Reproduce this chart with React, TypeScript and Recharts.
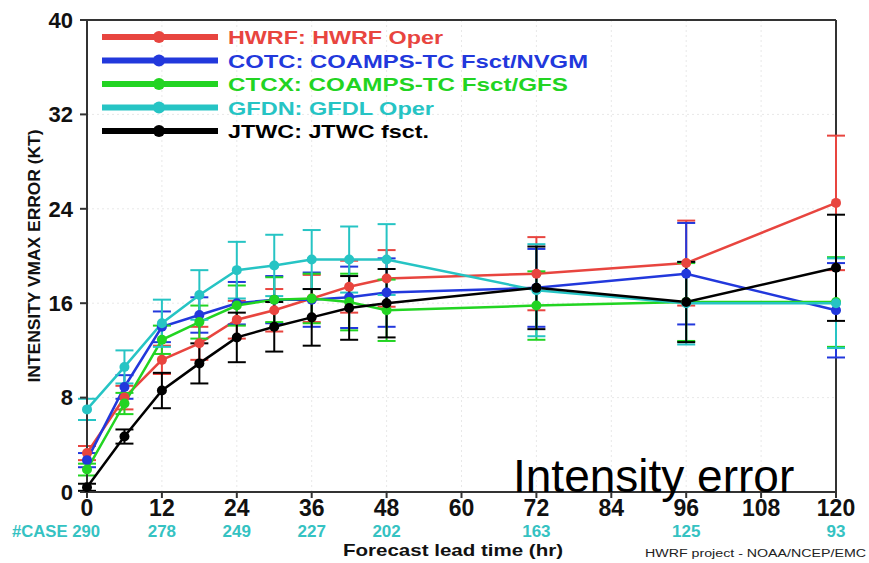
import React from "react";
import {
  LineChart,
  Line,
  XAxis,
  YAxis,
  CartesianGrid,
  ErrorBar,
  Legend,
  ReferenceLine,
} from "recharts";

// forecast lead times (hr)
const hours = [0, 6, 12, 18, 24, 30, 36, 42, 48, 72, 96, 120];

const hwrf = [3.3, 8.0, 11.2, 12.6, 14.6, 15.4, 16.4, 17.4, 18.1, 18.5, 19.4, 24.5];
const hwrfErr = [0.6, 1.0, 1.2, 1.4, 1.6, 1.8, 2.0, 2.2, 2.4, 3.1, 3.6, 5.7];

const cotc = [2.7, 8.9, 14.0, 15.0, 16.0, 16.3, 16.3, 16.5, 16.9, 17.3, 18.5, 15.4];
const cotcErr = [0.6, 1.0, 1.3, 1.5, 1.8, 2.0, 2.3, 2.6, 2.9, 3.3, 4.3, 4.0];

const ctcx = [1.9, 7.5, 12.9, 14.4, 15.8, 16.3, 16.4, 16.1, 15.4, 15.8, 16.1, 16.1];
const ctcxErr = [0.5, 0.9, 1.2, 1.4, 1.7, 1.9, 2.1, 2.4, 2.6, 2.9, 3.3, 3.8];

const gfdn = [7.0, 10.6, 14.3, 16.7, 18.8, 19.2, 19.7, 19.7, 19.7, 17.1, 16.0, 16.0];
const gfdnErr = [0.9, 1.4, 2.0, 2.1, 2.4, 2.6, 2.5, 2.8, 3.0, 3.9, 3.5, 3.8];

const jtwc = [0.4, 4.7, 8.6, 10.9, 13.1, 14.0, 14.8, 15.6, 16.0, 17.3, 16.1, 19.0];
const jtwcErr = [0.3, 0.6, 1.5, 1.7, 2.1, 2.1, 2.4, 2.7, 2.9, 3.5, 3.4, 4.5];

// number of cases at each labelled lead time
const caseHours = [0, 12, 24, 36, 48, 72, 96, 120];
const caseCounts = [290, 278, 249, 227, 202, 163, 125, 93];

const xTicks = [0, 12, 24, 36, 48, 60, 72, 84, 96, 108, 120];
const yTicks = [0, 8, 16, 24, 32, 40];

const series = [
  { key: "hwrf", name: "HWRF: HWRF Oper", color: "#e8453f", values: hwrf, err: hwrfErr, textLen: 215 },
  { key: "cotc", name: "COTC: COAMPS-TC Fsct/NVGM", color: "#2238dc", values: cotc, err: cotcErr, textLen: 360 },
  { key: "ctcx", name: "CTCX: COAMPS-TC Fsct/GFS", color: "#22d422", values: ctcx, err: ctcxErr, textLen: 340 },
  { key: "gfdn", name: "GFDN: GFDL Oper", color: "#26c4c4", values: gfdn, err: gfdnErr, textLen: 206 },
  { key: "jtwc", name: "JTWC: JTWC fsct.", color: "#000000", values: jtwc, err: jtwcErr, textLen: 201 },
];

const data = hours.map((h, i) => {
  const row: Record<string, number> = { hour: h };
  series.forEach((s) => {
    row[s.key] = s.values[i];
    row[s.key + "Err"] = s.err[i];
  });
  return row;
});

const W = 869;
const H = 563;
const tickFont = "'Liberation Sans', Arial, sans-serif";
const gradsFont = "'Liberation Sans', Arial, sans-serif";
const caseColor = "#35c2c2";

function CaseTick(props: any) {
  const { x, y, payload } = props;
  const idx = caseHours.indexOf(payload.value);
  if (idx < 0) return null;
  const label = String(caseCounts[idx]);
  if (idx === 0) {
    return (
      <text
        x={x + 13}
        y={y}
        dy="0.71em"
        textAnchor="end"
        fill={caseColor}
        fontSize={17}
        fontWeight="bold"
        fontFamily={tickFont}
        textLength={88}
        lengthAdjust="spacingAndGlyphs"
      >
        #CASE {label}
      </text>
    );
  }
  return (
    <text x={x} y={y} dy="0.71em" textAnchor="middle" fill={caseColor} fontSize={17} fontWeight="bold" fontFamily={tickFont}>
      {label}
    </text>
  );
}

function LegendBox() {
  return (
    <svg width={W} height={H} style={{ position: "absolute", left: 0, top: 0 }}>
      {series.map((s, i) => {
        const cy = 37 + i * 23.5;
        return (
          <g key={s.key}>
            <line x1={102} x2={218} y1={cy} y2={cy} stroke={s.color} strokeWidth={6} />
            <circle cx={159} cy={cy} r={6} fill={s.color} />
            <text
              x={228}
              y={cy + 7}
              fill={s.color}
              fontSize={19}
              fontWeight="bold"
              fontFamily={gradsFont}
              textLength={s.textLen}
              lengthAdjust="spacingAndGlyphs"
            >
              {s.name}
            </text>
          </g>
        );
      })}
    </svg>
  );
}

export default function App() {
  return (
    <div style={{ position: "absolute", left: 0, top: 0, width: W, height: H, background: "#fff" }}>
      <LineChart
        width={W}
        height={H}
        data={data}
        margin={{ top: 20, right: 33, bottom: 21, left: 0 }}
      >
        <CartesianGrid stroke="#e8e8e8" strokeDasharray="2 3" />
        <XAxis
          dataKey="hour"
          type="number"
          domain={[0, 120]}
          ticks={xTicks}
          height={30}
          tickSize={6}
          tickMargin={2}
          stroke="#333"
          strokeWidth={2}
          tick={{ fill: "#111", fontSize: 23, fontWeight: "bold", fontFamily: tickFont }}
        />
        <XAxis
          xAxisId="cases"
          dataKey="hour"
          type="number"
          domain={[0, 120]}
          ticks={caseHours}
          height={20}
          axisLine={false}
          tickLine={false}
          tickSize={0}
          tickMargin={3}
          tick={<CaseTick />}
        />
        <YAxis
          type="number"
          domain={[0, 40]}
          ticks={yTicks}
          width={87}
          tickSize={7}
          tickMargin={7}
          stroke="#333"
          strokeWidth={2}
          tick={{ fill: "#111", fontSize: 22, fontWeight: "bold", fontFamily: tickFont }}
        />
        <ReferenceLine y={40} stroke="#333" strokeWidth={2} />
        <ReferenceLine x={120} stroke="#333" strokeWidth={2} />
        <Legend
          layout="vertical"
          align="center"
          verticalAlign="middle"
          wrapperStyle={{ left: 0, top: 0, width: W, height: H, pointerEvents: "none" }}
          content={() => <LegendBox />}
        />
        {series.map((s) => (
          <Line
            key={s.key}
            dataKey={s.key}
            name={s.name}
            stroke={s.color}
            strokeWidth={2.5}
            dot={{ r: 5, fill: s.color, stroke: "none" }}
            isAnimationActive={false}
          >
            <ErrorBar dataKey={s.key + "Err"} direction="y" width={9} stroke={s.color} strokeWidth={2} />
          </Line>
        ))}
      </LineChart>
      <svg width={W} height={H} style={{ position: "absolute", left: 0, top: 0, pointerEvents: "none" }}>
        <text
          transform="translate(40,256) rotate(-90)"
          textAnchor="middle"
          fontSize={16}
          fontWeight="bold"
          fontFamily={tickFont}
          fill="#111"
          textLength={253}
          lengthAdjust="spacingAndGlyphs"
        >
          INTENSITY VMAX ERROR (KT)
        </text>
        <text
          x={343}
          y={556}
          fontSize={17}
          fontWeight="bold"
          fontFamily={gradsFont}
          fill="#111"
          textLength={220}
          lengthAdjust="spacingAndGlyphs"
        >
          Forecast lead time (hr)
        </text>
        <text
          x={645}
          y={557}
          fontSize={10}
          fontFamily={gradsFont}
          fill="#222"
          textLength={221}
          lengthAdjust="spacingAndGlyphs"
        >
          HWRF project - NOAA/NCEP/EMC
        </text>
        <text x={513} y={492} fontSize={46} fontFamily="'Liberation Sans', Arial, sans-serif" fill="#000">
          Intensity error
        </text>
      </svg>
    </div>
  );
}
